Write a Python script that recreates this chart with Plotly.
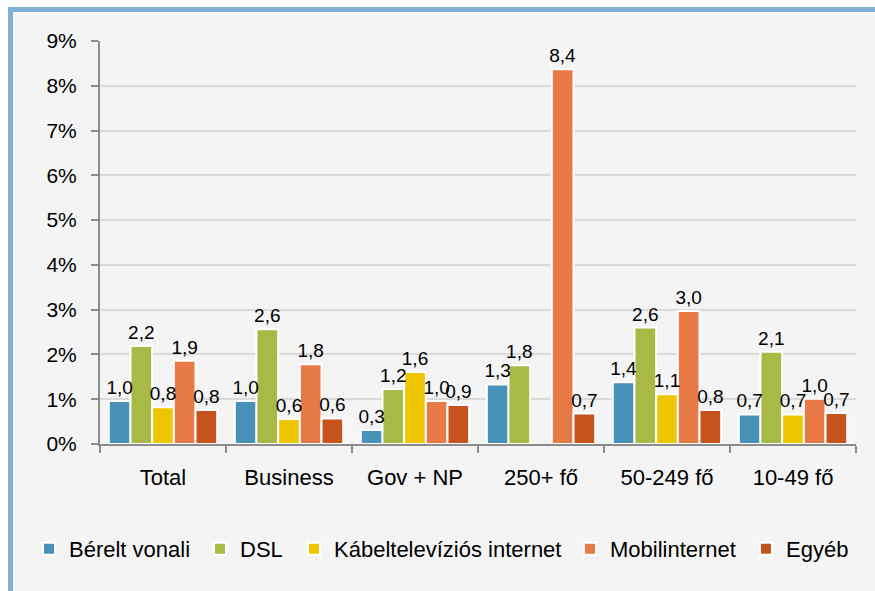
import plotly.graph_objects as go

categories = ["Total", "Business", "Gov + NP", "250+ fő", "50-249 fő", "10-49 fő"]
series_names = ["Bérelt vonali", "DSL", "Kábeltelevíziós internet", "Mobilinternet", "Egyéb"]
berelt = [0.96, 0.96, 0.31, 1.33, 1.38, 0.66]
dsl = [2.19, 2.56, 1.23, 1.76, 2.60, 2.06]
kabel = [0.82, 0.56, 1.61, None, 1.11, 0.66]
mobil = [1.86, 1.78, 0.96, 8.37, 2.97, 1.01]
egyeb = [0.76, 0.57, 0.87, 0.68, 0.76, 0.69]
colors = ["#4891b8", "#a8ba45", "#eec600", "#e87a48", "#c6521e"]
series_values = [berelt, dsl, kabel, mobil, egyeb]

# figure sits inside a white page edge (8px left, 7px top) and a 5px blue frame
OX, OY = 13, 12
W, H = 875 - OX, 591 - OY
L, R, T, B = 100 - OX, 19, 41 - OY, 147
PW, PH = W - L - R, H - T - B


def px(x):
    return (x - OX - L) / PW


def py(y):
    return (H - B - (y - OY)) / PH


FONT = "Liberation Sans, Arial, sans-serif"
legend_x = [29, 200, 294, 570, 746]

fig = go.Figure()
for i, (name, vals, col) in enumerate(zip(series_names, series_values, colors)):
    lg = "legend" if i == 0 else f"legend{i + 1}"
    fig.add_trace(go.Bar(
        name=name, x=categories, y=vals, offsetgroup=str(i), legend=lg,
        marker=dict(color=col, line=dict(color="white", width=2)),
    ))
# value labels drawn above all bars
for i, (name, vals) in enumerate(zip(series_names, series_values)):
    fig.add_trace(go.Bar(
        name=name, x=categories, y=vals, offsetgroup=str(i), showlegend=False,
        marker=dict(color="rgba(0,0,0,0)", line=dict(color="rgba(0,0,0,0)", width=12)),
        texttemplate="%{y:.1f}", textposition="outside", constraintext="none",
        textfont=dict(size=19, color="black", family=FONT),
        cliponaxis=False, hoverinfo="skip",
    ))

legend_common = dict(orientation="h", xanchor="left", y=py(549), yanchor="middle",
                     font=dict(size=22, family=FONT, color="black"),
                     bgcolor="rgba(0,0,0,0)", itemwidth=30)
legends = {}
for i, lx in enumerate(legend_x):
    key = "legend" if i == 0 else f"legend{i + 1}"
    legends[key] = dict(legend_common, x=px(lx))

fig.update_layout(
    width=W, height=H,
    margin=dict(l=L, r=R, t=T, b=B, pad=0),
    paper_bgcolor="#f4f4f4", plot_bgcolor="#f4f4f4",
    barmode="group", bargap=0.14, bargroupgap=0,
    separators=",.",
    font=dict(family=FONT, size=22, color="black"),
    showlegend=True,
    xaxis=dict(showline=True, linecolor="#8c8c8c", linewidth=2,
               ticks="outside", tickson="boundaries", ticklen=7, tickcolor="#8c8c8c", tickwidth=2,
               ticklabelstandoff=13, showgrid=False,
               tickfont=dict(size=22, family=FONT, color="black")),
    yaxis=dict(range=[0, 9], dtick=1, ticksuffix="%", showline=True, linecolor="#8c8c8c",
               linewidth=2, ticks="outside", ticklen=7, tickcolor="#8c8c8c", tickwidth=2,
               showgrid=True, gridcolor="#d9d9d9", gridwidth=2, zeroline=False,
               ticklabelstandoff=10,
               tickfont=dict(size=21, family=FONT, color="black")),
    **legends,
)

fig.write_html(
    "out.html",
    config={"displayModeBar": False},
    post_script=(
        "document.documentElement.style.overflow='hidden';"
        "document.body.style.margin='0';document.body.style.overflow='hidden';"
        "var gd=document.getElementById('{plot_id}');"
        "gd.style.marginLeft='8px';gd.style.marginTop='7px';"
        "gd.style.borderLeft='5px solid #80b1d3';gd.style.borderTop='5px solid #80b1d3';"
    ),
)
